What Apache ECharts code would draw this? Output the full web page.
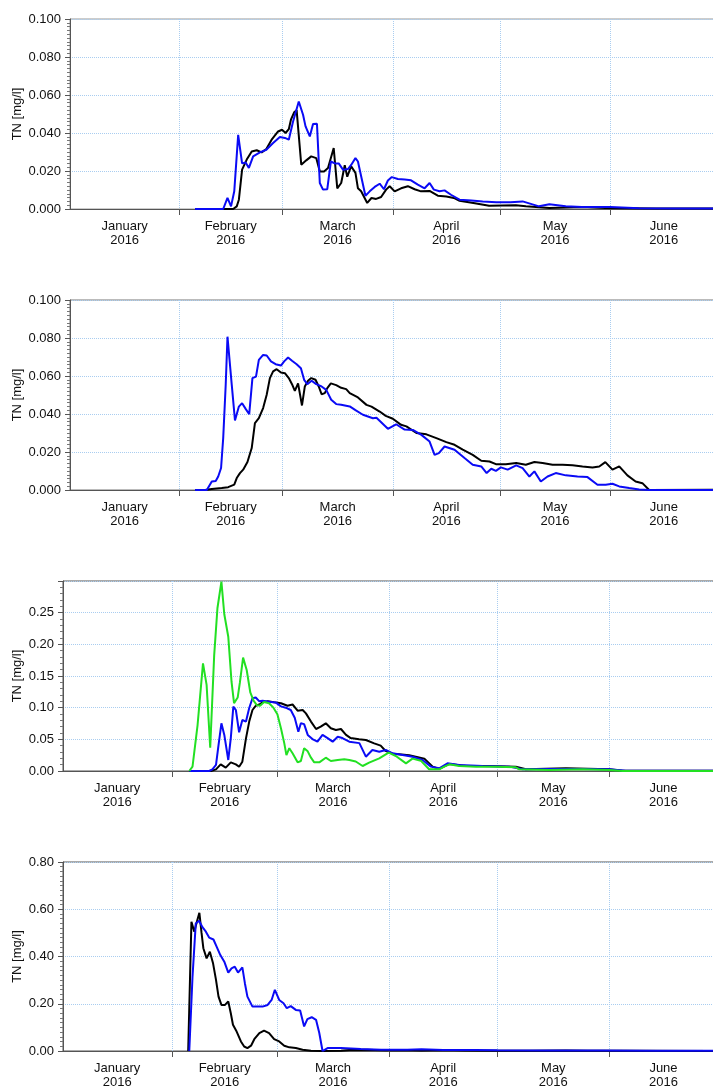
<!DOCTYPE html>
<html><head><meta charset="utf-8">
<script src="https://cdn.jsdelivr.net/npm/echarts@6/dist/echarts.min.js"></script>
<style>html,body{margin:0;padding:0;background:#fff}#c{width:713px;height:1086px}</style>
</head><body><div id="c"></div>
<script>
// x values: days since 2016-01-01 00:00
const monthTicks = [31, 60, 91, 121, 152];
const monthLabelPos = [15.75, 45.5, 75.5, 106, 136.5, 167];
const monthLabels = ['January\n2016', 'February\n2016', 'March\n2016', 'April\n2016', 'May\n2016', 'June\n2016'];

// Panel 1
const p1Black = [[35.5,0],[46.2,0],[47.2,0.0014],[47.8,0.0049],[48.7,0.0207],[50.0,0.026],[51.4,0.0303],[52.8,0.0309],[54.2,0.0298],[55.5,0.0316],[57.1,0.0368],[58.8,0.0408],[59.9,0.0417],[60.9,0.040],[61.8,0.042],[62.4,0.047],[63.3,0.0509],[64.0,0.052],[65.3,0.0233],[66.7,0.0256],[68.1,0.0277],[69.5,0.0268],[70.5,0.0198],[71.7,0.0198],[72.8,0.0216],[74.4,0.0321],[75.4,0.0109],[76.5,0.0137],[77.5,0.023],[78.2,0.017],[79.3,0.0225],[80.5,0.019],[81.2,0.0109],[82.1,0.0093],[83.8,0.0032],[85.0,0.0058],[86.3,0.0053],[87.7,0.0063],[89.1,0.0102],[90.1,0.012],[91.5,0.0093],[93.3,0.0109],[95.2,0.012],[97.1,0.0104],[98.9,0.0093],[101.3,0.0095],[103.6,0.007],[106.0,0.0066],[108.1,0.0058],[109.7,0.0043],[114,0.003],[118,0.0017],[125.5,0.002],[128.3,0.0014],[134.9,0.0005],[144,0.001],[150.6,0.0005],[165,0.0003],[181.5,0.0002]];
const p1Blue = [[35.5,0],[43.4,0],[44.6,0.0058],[45.6,0.0014],[46.5,0.0093],[47.6,0.039],[48.7,0.024],[49.7,0.0245],[50.6,0.0216],[51.8,0.0277],[53.7,0.0298],[55.5,0.0312],[57.4,0.0347],[59.3,0.0379],[60.7,0.0374],[61.8,0.0365],[63.0,0.0461],[64.6,0.0566],[65.8,0.0496],[66.5,0.0435],[67.7,0.0382],[68.6,0.0447],[69.7,0.0449],[70.5,0.0137],[71.4,0.0102],[72.6,0.0104],[73.6,0.025],[74.7,0.024],[75.8,0.024],[77.0,0.0207],[78.4,0.021],[79.3,0.0232],[80.5,0.0268],[81.2,0.025],[82.1,0.0172],[83.3,0.007],[84.5,0.0093],[85.9,0.0116],[87.3,0.0133],[88.5,0.0104],[89.6,0.015],[90.7,0.0168],[92.4,0.0158],[94.3,0.0155],[96.1,0.0151],[98.0,0.0128],[99.9,0.0109],[101.3,0.0137],[102.5,0.0102],[104.1,0.0093],[105.5,0.0098],[107.3,0.0075],[109.7,0.0049],[113,0.0045],[116.2,0.004],[120,0.0035],[124,0.0035],[127.4,0.004],[132,0.0014],[134.9,0.0025],[139.5,0.0014],[144,0.001],[152,0.001],[160,0.0004],[170,0.0003],[181.5,0.0002]];

// Panel 2
const p2Black = [[35.5,0],[38.3,0],[40.2,0.0005],[43.0,0.001],[44.8,0.0015],[46.5,0.0028],[47.2,0.0063],[48.1,0.0089],[49.0,0.0107],[50.2,0.0147],[51.4,0.0221],[52.3,0.0352],[53.4,0.0378],[54.6,0.0431],[55.6,0.0501],[56.5,0.0589],[57.4,0.0624],[58.4,0.0636],[59.6,0.0618],[60.7,0.0615],[61.8,0.0589],[62.7,0.0557],[63.5,0.0522],[64.4,0.0561],[65.5,0.0445],[66.3,0.0545],[67.2,0.0575],[68.1,0.0589],[69.3,0.058],[70.2,0.0545],[71.0,0.0504],[71.9,0.051],[72.6,0.0536],[73.6,0.0561],[75.1,0.0552],[76.5,0.0538],[77.9,0.0531],[78.9,0.051],[81.2,0.0487],[83.6,0.0448],[85.0,0.0439],[87.3,0.0413],[89.0,0.039],[91.0,0.0375],[93.3,0.0343],[94.8,0.0335],[97.6,0.030],[100.4,0.0293],[103.2,0.0273],[106.0,0.0252],[108.3,0.0238],[110.6,0.0212],[113.4,0.0185],[115.8,0.0154],[118.1,0.015],[119.9,0.0136],[122.7,0.0136],[125.6,0.0142],[128.3,0.0133],[130.7,0.0147],[133.0,0.0142],[135.8,0.0133],[138.6,0.0133],[141.4,0.013],[144.2,0.0124],[147.0,0.0119],[148.9,0.0124],[150.6,0.0147],[152.6,0.0107],[154.5,0.0124],[156.8,0.0077],[159.1,0.0045],[161.0,0.0036],[162.9,0],[181.5,0.0002]];
const p2Blue = [[35.5,0],[38.8,0],[40.2,0.0045],[41.3,0.0047],[42.0,0.0071],[42.8,0.0116],[43.4,0.0273],[44.1,0.0553],[44.6,0.0807],[45.8,0.0553],[46.7,0.0366],[47.8,0.0439],[48.7,0.0457],[49.7,0.0427],[50.7,0.0399],[51.6,0.0589],[52.6,0.0597],[53.4,0.0685],[54.6,0.0711],[55.6,0.0708],[56.8,0.0677],[58.1,0.0662],[59.6,0.0655],[60.5,0.0677],[61.6,0.0697],[62.7,0.068],[64.0,0.0662],[65.2,0.0641],[66.1,0.058],[67.0,0.0557],[68.2,0.0575],[69.5,0.0557],[71.0,0.0545],[72.3,0.0527],[73.7,0.0475],[75.1,0.0452],[76.5,0.0449],[78.9,0.044],[80.5,0.042],[82.6,0.0396],[85.4,0.0378],[86.4,0.038],[89.6,0.0322],[91.9,0.0346],[94.3,0.0318],[96.6,0.0316],[99.0,0.029],[101.3,0.0255],[102.7,0.0185],[103.9,0.0194],[105.5,0.0229],[108.3,0.0212],[111.1,0.0168],[113.4,0.0133],[115.8,0.0124],[117.3,0.0089],[118.6,0.0112],[119.9,0.0101],[121.3,0.0119],[123.2,0.0107],[125.6,0.013],[127.4,0.0115],[129.3,0.0071],[130.7,0.0098],[132.5,0.0045],[134.4,0.0071],[136.7,0.0089],[139.5,0.0077],[142.8,0.0071],[145.6,0.0068],[148.4,0.0028],[150.7,0.0028],[152.6,0.0033],[154.5,0.0019],[157.3,0.001],[160.1,0.0003],[162.9,0],[181.5,0]];

// Panel 3
const p3Black = [[35.7,0],[41.7,0],[43.1,0.0026],[44.4,0.0105],[45.8,0.0053],[47.2,0.0137],[48.6,0.0105],[49.5,0.0068],[50.4,0.0147],[51.4,0.0516],[52.3,0.078],[53.2,0.0963],[54.1,0.103],[55.1,0.105],[56.0,0.1085],[57.4,0.110],[59.2,0.1085],[61.1,0.107],[62.9,0.103],[64.3,0.105],[65.7,0.0953],[67.1,0.0963],[68.0,0.091],[69.4,0.078],[70.8,0.0663],[72.1,0.070],[73.5,0.0753],[74.9,0.0674],[76.3,0.0647],[77.7,0.0663],[79.1,0.057],[80.4,0.052],[82.7,0.0500],[84.6,0.049],[86.9,0.0437],[88.7,0.040],[90.0,0.032],[92.0,0.0274],[94.5,0.026],[96.6,0.0248],[100.8,0.0195],[103.1,0.0069],[104.9,0.0032],[107.7,0.0111],[112.3,0.008],[118.8,0.008],[126.1,0.0069],[128.9,0.0027],[140,0.0042],[152,0.0027],[155.7,0.0005],[181.5,0.0003]];
const p3Blue = [[35.7,0],[41.2,0],[42.1,0.0026],[43.1,0.0095],[43.8,0.041],[44.6,0.0753],[45.4,0.057],[46.5,0.0174],[47.2,0.052],[47.9,0.1016],[48.6,0.0963],[49.5,0.061],[50.4,0.0805],[51.4,0.078],[52.3,0.0995],[53.2,0.1148],[54.1,0.116],[55.1,0.110],[56.0,0.111],[56.9,0.110],[58.3,0.109],[59.7,0.108],[61.1,0.102],[62.4,0.100],[63.8,0.0963],[64.9,0.084],[65.9,0.062],[66.6,0.0753],[67.5,0.074],[68.5,0.057],[69.8,0.0505],[71.2,0.0463],[72.6,0.057],[74.0,0.052],[75.4,0.0463],[76.8,0.0542],[78.1,0.052],[80.0,0.0463],[82.8,0.044],[84.6,0.0226],[86.4,0.0332],[88.3,0.0305],[90.1,0.0332],[92.0,0.0279],[94.8,0.0253],[97.5,0.0226],[100.3,0.0174],[102.6,0.0069],[104.9,0.0042],[107.2,0.0121],[110.4,0.0095],[116.9,0.0079],[124.3,0.0069],[128,0.0027],[135.4,0.0032],[144.6,0.0032],[152,0.0027],[156.6,0.0005],[181.5,0.0002]];
const p3Green = [[35.7,0],[36.6,0.0068],[38.0,0.0726],[39.5,0.170],[40.5,0.136],[41.5,0.0368],[42.6,0.183],[43.5,0.257],[44.6,0.299],[45.4,0.2475],[46.5,0.212],[47.4,0.141],[48.1,0.107],[49.1,0.116],[49.7,0.139],[50.6,0.179],[51.6,0.1595],[52.6,0.124],[53.5,0.111],[54.4,0.104],[55.3,0.103],[56.4,0.109],[57.8,0.107],[59.0,0.100],[60.1,0.0895],[61.1,0.067],[62.0,0.044],[62.6,0.025],[63.4,0.036],[64.3,0.028],[65.7,0.0137],[66.6,0.0158],[67.5,0.036],[68.5,0.031],[69.4,0.021],[70.3,0.0137],[71.7,0.0137],[73.5,0.021],[74.9,0.0158],[76.8,0.0174],[78.6,0.0184],[80.0,0.0174],[81.8,0.015],[83.7,0.0079],[85.5,0.0132],[88.3,0.020],[90.9,0.029],[92.9,0.0237],[95.7,0.0121],[97.5,0.0195],[99.8,0.0163],[102.1,0.0027],[104.9,0.0027],[106.3,0.0069],[107.7,0.0106],[110.4,0.008],[115.1,0.0069],[120.6,0.0069],[126.1,0.0058],[127.1,0.0027],[135.4,0.0016],[144.6,0.0027],[152,0.0016],[155.7,0],[181.5,0]];

// Panel 4
const p4Black = [[35.4,0],[36.3,0.547],[37.1,0.505],[37.8,0.547],[38.5,0.585],[39.1,0.50],[39.6,0.435],[40.5,0.392],[41.4,0.42],[42.3,0.37],[43.1,0.301],[43.8,0.23],[44.6,0.195],[45.6,0.195],[46.5,0.21],[47.2,0.16],[47.8,0.111],[48.7,0.086],[50.0,0.0405],[50.9,0.019],[51.8,0.0125],[52.8,0.0225],[53.7,0.05],[55.1,0.076],[56.4,0.086],[57.8,0.076],[59.2,0.05],[60.6,0.0405],[62.0,0.0225],[63.4,0.0155],[65.2,0.0125],[67.1,0.0056],[69.4,0.0014],[72.1,0],[77.7,0.001],[80,0.004],[84,0.005],[90,0.003],[95,0.004],[100,0.002],[106,0.004],[112,0.002],[120,0.001],[130,0.001],[140,0.002],[146,0.001],[155,0.001],[181.5,0.0005]];
const p4Blue = [[35.7,0],[36.6,0.315],[37.5,0.54],[38.4,0.551],[39.4,0.523],[40.3,0.505],[41.2,0.48],[42.4,0.472],[43.3,0.441],[44.3,0.406],[45.4,0.378],[46.5,0.332],[47.4,0.35],[48.3,0.357],[49.2,0.332],[50.4,0.354],[51.1,0.287],[51.8,0.23],[53.2,0.188],[54.6,0.188],[56.0,0.188],[57.4,0.195],[58.5,0.216],[59.4,0.259],[60.6,0.216],[61.8,0.202],[62.7,0.181],[63.8,0.19],[65.2,0.174],[66.4,0.171],[67.5,0.104],[68.4,0.135],[69.6,0.143],[70.8,0.132],[71.7,0.076],[72.6,0],[74.0,0.0125],[77.7,0.0125],[83.2,0.0085],[88.8,0.0056],[96.1,0.0056],[100,0.007],[106,0.004],[115,0.004],[121,0.003],[135,0.002],[150,0.002],[165,0.0015],[181.5,0.001]];

const FONT = "'Liberation Sans', Arial, sans-serif";
const GRID_LINE = {color: '#a9cdf0', type: 'dotted', width: 1};
const AXIS_COL = '#555';

const panels = [
  {left: 70, top: 19, height: 190, xmin: 0.42, xmax: 181.65, max: 0.1, interval: 0.02, dec: 3, minor: 10, gap: 46, border: '#999', series: [['#000', p1Black], ['#0a0af5', p1Blue]]},
  {left: 70, top: 300, height: 190, xmin: 0.42, xmax: 181.65, max: 0.1, interval: 0.02, dec: 3, minor: 10, gap: 46, border: '#777', series: [['#000', p2Black], ['#0a0af5', p2Blue]]},
  {left: 63, top: 581, height: 190, xmin: 0.74, xmax: 181.54, max: 0.3, interval: 0.05, dec: 2, minor: 5, gap: 39, hideMax: true, border: '#555', series: [['#000', p3Black], ['#0a0af5', p3Blue], ['#22e022', p3Green]]},
  {left: 63, top: 862, height: 189, xmin: 0.74, xmax: 181.54, max: 0.8, interval: 0.2, dec: 2, minor: 10, gap: 39, border: '#555', series: [['#000', p4Black], ['#0a0af5', p4Blue]]}
];

const grid = [], xAxis = [], yAxis = [], series = [];
panels.forEach((p, i) => {
  grid.push({left: p.left, top: p.top, height: p.height, right: -3, outerBoundsMode: 'none', containLabel: false,
    show: true, borderColor: p.border, borderWidth: 1, backgroundColor: 'transparent'});
  xAxis.push({
    type: 'value', gridIndex: i, min: p.xmin, max: p.xmax,
    axisLine: {show: true, onZero: false, lineStyle: {color: AXIS_COL, width: 1}},
    axisTick: {show: true, length: 6, customValues: monthTicks, lineStyle: {color: AXIS_COL}},
    splitLine: {show: true, lineStyle: GRID_LINE},
    axisLabel: {
      customValues: monthLabelPos, margin: 10, fontFamily: FONT, fontSize: 13, color: '#111', lineHeight: 14,
      formatter: v => { const k = monthLabelPos.indexOf(v); return k >= 0 ? monthLabels[k] : ''; }
    }
  });
  yAxis.push({
    type: 'value', gridIndex: i, min: 0, max: p.max, interval: p.interval,
    name: 'TN [mg/l]', nameLocation: 'middle', nameGap: p.gap, nameRotate: 90, nameMoveOverlap: false,
    nameTextStyle: {fontFamily: FONT, fontSize: 13, color: '#111'},
    axisLine: {show: true, lineStyle: {color: AXIS_COL, width: 1}},
    axisTick: {show: true, length: 5, lineStyle: {color: AXIS_COL}},
    minorTick: {show: true, splitNumber: p.minor, length: 3, lineStyle: {color: '#777'}},
    splitLine: {show: true, lineStyle: GRID_LINE},
    axisLabel: {margin: 9, fontFamily: FONT, fontSize: 13, color: '#111', showMaxLabel: !p.hideMax,
      formatter: v => v.toFixed(p.dec)}
  });
  p.series.forEach(([col, data]) => {
    series.push({type: 'line', xAxisIndex: i, yAxisIndex: i, data: data, showSymbol: false, symbol: 'none',
      lineStyle: {color: col, width: 2}, itemStyle: {color: col}, animation: false, silent: true, clip: true});
  });
});

const chart = echarts.init(document.getElementById('c'), null, {renderer: 'canvas'});
chart.setOption({animation: false, backgroundColor: '#fff', grid, xAxis, yAxis, series});
</script>
</body></html>
